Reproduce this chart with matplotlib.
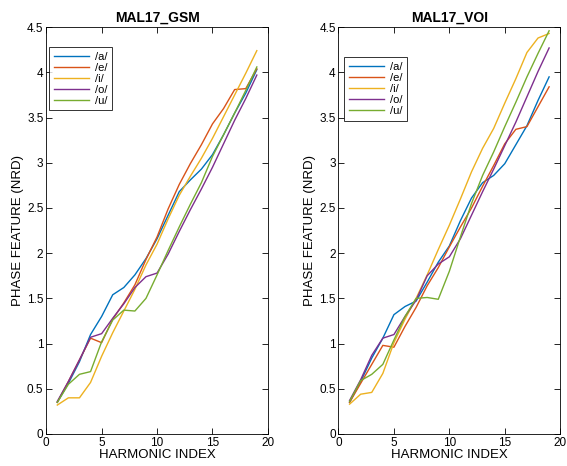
import numpy as np
import matplotlib
matplotlib.use('Agg')
import matplotlib.pyplot as plt

plt.rcParams['font.family'] = ['Liberation Sans', 'DejaVu Sans']

harmonic = np.arange(1, 20)
vowels = ['/a/', '/e/', '/i/', '/o/', '/u/']
colors = ['#0072BD', '#D95319', '#EDB120', '#7E2F8E', '#77AC30']

# MAL17_GSM
gsm_a = [0.35, 0.56, 0.80, 1.10, 1.30, 1.54, 1.62, 1.76, 1.94, 2.16, 2.42, 2.68, 2.81, 2.93, 3.09, 3.31, 3.55, 3.77, 4.03]
gsm_e = [0.35, 0.58, 0.82, 1.06, 1.01, 1.27, 1.45, 1.65, 1.93, 2.18, 2.49, 2.76, 2.99, 3.20, 3.43, 3.60, 3.81, 3.82, 4.04]
gsm_i = [0.32, 0.40, 0.40, 0.57, 0.86, 1.12, 1.36, 1.60, 1.87, 2.10, 2.38, 2.64, 2.85, 3.05, 3.27, 3.51, 3.75, 3.99, 4.24]
gsm_o = [0.36, 0.58, 0.82, 1.07, 1.11, 1.28, 1.44, 1.62, 1.74, 1.78, 1.99, 2.24, 2.48, 2.71, 2.95, 3.21, 3.47, 3.71, 3.97]
gsm_u = [0.35, 0.55, 0.66, 0.69, 1.02, 1.26, 1.37, 1.36, 1.50, 1.76, 2.03, 2.29, 2.54, 2.78, 3.07, 3.31, 3.55, 3.80, 4.06]

# MAL17_VOI
voi_a = [0.35, 0.58, 0.84, 1.06, 1.32, 1.41, 1.47, 1.68, 1.90, 2.08, 2.36, 2.61, 2.78, 2.86, 2.99, 3.20, 3.41, 3.69, 3.95]
voi_e = [0.35, 0.56, 0.77, 0.98, 0.96, 1.19, 1.40, 1.64, 1.84, 2.07, 2.29, 2.50, 2.74, 2.97, 3.21, 3.37, 3.40, 3.62, 3.84]
voi_i = [0.33, 0.44, 0.46, 0.67, 1.01, 1.27, 1.50, 1.76, 2.04, 2.31, 2.60, 2.90, 3.16, 3.38, 3.66, 3.93, 4.22, 4.38, 4.43]
voi_o = [0.37, 0.60, 0.87, 1.06, 1.10, 1.30, 1.48, 1.75, 1.88, 1.96, 2.16, 2.42, 2.68, 2.93, 3.19, 3.45, 3.73, 4.01, 4.27]
voi_u = [0.36, 0.59, 0.66, 0.77, 1.04, 1.30, 1.50, 1.51, 1.49, 1.80, 2.18, 2.55, 2.86, 3.12, 3.40, 3.67, 3.95, 4.21, 4.46]

panels = [
    ('MAL17_GSM', [gsm_a, gsm_e, gsm_i, gsm_o, gsm_u], [0.0815, 0.0687, 0.391, 0.873], (0.013, 0.951)),
    ('MAL17_VOI', [voi_a, voi_e, voi_i, voi_o, voi_u], [0.597, 0.0687, 0.391, 0.873], (0.026, 0.926)),
]

yticks = np.arange(0, 4.51, 0.5)
ytick_labels = ['0', '0.5', '1', '1.5', '2', '2.5', '3', '3.5', '4', '4.5']

fig = plt.figure(figsize=(5.67, 4.66), dpi=100)
for title, series, rect, leg_pos in panels:
    ax = fig.add_axes(rect)
    for vals, lab, c in zip(series, vowels, colors):
        ax.plot(harmonic, vals, color=c, lw=1.0, label=lab)
    ax.set_xlim(0, 20)
    ax.set_ylim(0, 4.5)
    ax.set_xticks([0, 5, 10, 15, 20])
    ax.set_yticks(yticks)
    ax.set_yticklabels(ytick_labels)
    ax.tick_params(direction='in', top=True, right=True, labelsize=8.5, length=4, width=0.6, pad=2)
    for s in ax.spines.values():
        s.set_linewidth(0.6)
    ax.set_title(title, fontsize=10, fontweight='bold', pad=4)
    ax.set_xlabel('HARMONIC INDEX', fontsize=9.5, labelpad=0)
    ax.set_ylabel('PHASE FEATURE (NRD)', fontsize=9.5, labelpad=2)
    leg = ax.legend(loc='upper left', bbox_to_anchor=leg_pos, fontsize=8, frameon=True,
                    fancybox=False, handlelength=3.2, borderpad=0.4, labelspacing=0.1,
                    handletextpad=0.5, borderaxespad=0.0)
    leg.get_frame().set_edgecolor('black')
    leg.get_frame().set_linewidth(0.7)

fig.savefig('out.png', dpi=100)
